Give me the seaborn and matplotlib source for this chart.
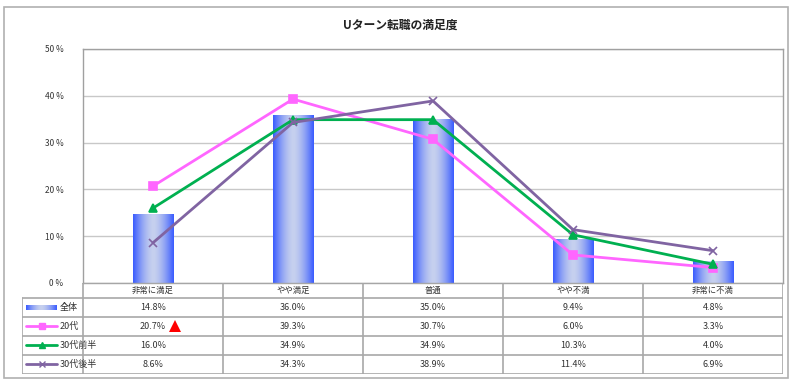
import matplotlib
matplotlib.use("Agg")
import matplotlib.pyplot as plt
import numpy as np
import pandas as pd
import seaborn as sns
from matplotlib.patches import Rectangle
from matplotlib.lines import Line2D

categories = ["非常に満足", "やや満足", "普通", "やや不満", "非常に不満"]
overall = [14.8, 36.0, 35.0, 9.4, 4.8]
age_20s = [20.7, 39.3, 30.7, 6.0, 3.3]
age_30_early = [16.0, 34.9, 34.9, 10.3, 4.0]
age_30_late = [8.6, 34.3, 38.9, 11.4, 6.9]
series_names = ["全体", "20代", "30代前半", "30代後半"]
title = "Uターン転職の満足度"

sns.set_style("white")
plt.rcParams["font.family"] = ["Noto Sans CJK JP", "DejaVu Sans"]

W, H = 800, 382
fig = plt.figure(figsize=(8, 3.82), dpi=100)


def fx(px):
    return px / W


def fy(py):
    return 1 - py / H


# outer frame
fig.patches.append(Rectangle((fx(4), fy(378)), fx(784), (378 - 7) / H,
                             transform=fig.transFigure, fill=False,
                             edgecolor="#b0b0b0", lw=1.2))

left, right, top, bottom = 83, 783, 49, 283
ax = fig.add_axes([fx(left), fy(bottom), fx(right - left), (bottom - top) / H])
pos = np.arange(len(categories))

df = pd.DataFrame({"pos": pos, "val": overall})
sns.barplot(data=df, x="pos", y="val", ax=ax, width=0.29, native_scale=True,
            color="#3d5cff", edgecolor="none", zorder=2)

# gradient fill in each bar
grad = np.abs(np.linspace(-1, 1, 64)) ** 1.6
cmap = matplotlib.colors.LinearSegmentedColormap.from_list("g", ["#c6d0ee", "#3a5cff"])
for p in ax.patches:
    x0, y0 = p.get_x(), p.get_y()
    w, h = p.get_width(), p.get_height()
    im = ax.imshow(grad[None, :], extent=[x0, x0 + w, y0, y0 + h], aspect="auto",
                   cmap=cmap, vmin=0, vmax=1, zorder=2.5, interpolation="bicubic")
    im.set_clip_path(p)

line_styles = [
    (age_20s, "#ff66ff", "s", 6, "#ff66ff"),
    (age_30_early, "#00b050", "^", 6, "#00b050"),
    (age_30_late, "#8064a2", "x", 6, "#8064a2"),
]
for vals, col, mk, ms, mec in line_styles:
    sns.lineplot(x=pos, y=vals, ax=ax, color=col, marker=mk, markersize=ms,
                 markeredgecolor=mec, markerfacecolor=col, markeredgewidth=1.2,
                 lw=2, zorder=4)

ax.set_xlim(-0.5, len(categories) - 0.5)
ax.set_ylim(0, 50)
ax.set_yticks(range(0, 51, 10))
ax.set_yticklabels([f"{v} %" for v in range(0, 51, 10)], fontsize=6, color="#333333")
ax.set_xticks([])
ax.set_xlabel("")
ax.set_ylabel("")
ax.tick_params(axis="y", length=0, pad=14)
ax.grid(axis="y", color="#c8c8c8", lw=1, zorder=0)
ax.set_axisbelow(True)
for s in ax.spines.values():
    s.set_color("#a0a0a0")
    s.set_linewidth(1)

fig.text(0.5, fy(25), title, ha="center", va="center", fontsize=8.5,
         fontweight="bold", color="#222222")

# data table below the plot
tleft, tbottom = 22, 374
tax = fig.add_axes([fx(tleft), fy(tbottom), fx(right - tleft), (tbottom - bottom) / H])
col_w = (right - left) / len(categories)
lab_w = (left - tleft) / col_w
tax.set_xlim(-0.5 - lab_w, len(categories) - 0.5)
tax.set_ylim(tbottom, bottom)
tax.axis("off")

row_edges = [283, 298, 317, 336, 355, 374]
lc = "#a8a8a8"
# horizontal lines
tax.plot([-0.5, len(categories) - 0.5], [row_edges[0]] * 2, color=lc, lw=1.2)
for yy in row_edges[1:]:
    tax.plot([-0.5 - lab_w, len(categories) - 0.5], [yy, yy], color=lc, lw=1.2)
# vertical lines
for i in range(len(categories) + 1):
    tax.plot([i - 0.5] * 2, [row_edges[0], row_edges[-1]], color=lc, lw=1.2)
tax.plot([-0.5 - lab_w] * 2, [row_edges[1], row_edges[-1]], color=lc, lw=1.2)

for i, c in enumerate(categories):
    tax.text(i, (row_edges[0] + row_edges[1]) / 2, c, ha="center", va="center",
             fontsize=6, color="#333333")

all_rows = [overall, age_20s, age_30_early, age_30_late]
for r, vals in enumerate(all_rows):
    yc = (row_edges[r + 1] + row_edges[r + 2]) / 2
    for i, v in enumerate(vals):
        tax.text(i, yc, f"{v:.1f}%", ha="center", va="center", fontsize=6.5,
                 color="#333333")

# legend keys in the first column
key_x0 = -0.5 - lab_w + 0.03
key_x1 = key_x0 + 0.22
for r, name in enumerate(series_names):
    yc = (row_edges[r + 1] + row_edges[r + 2]) / 2
    if r == 0:
        tax.imshow(grad[None, :], extent=[key_x0, key_x1, yc + 2.5, yc - 2.5],
                   aspect="auto", cmap=cmap, vmin=0, vmax=1, interpolation="bicubic")
    else:
        vals, col, mk, ms, mec = line_styles[r - 1]
        tax.add_line(Line2D([key_x0, key_x1], [yc, yc], color=col, lw=2))
        tax.plot([(key_x0 + key_x1) / 2], [yc], marker=mk, color=col, markersize=4,
                 markeredgewidth=1)
    tax.text(key_x1 + 0.02, yc, name, ha="left", va="center", fontsize=6.5,
             color="#333333")

tax.set_xlim(-0.5 - lab_w, len(categories) - 0.5)
tax.set_ylim(tbottom, bottom)

# red marker next to the 20代 value
tax.plot([0.16], [(row_edges[2] + row_edges[3]) / 2], marker="^", color="red",
         markersize=9, markeredgewidth=0)

fig.savefig("out.png", dpi=100)
